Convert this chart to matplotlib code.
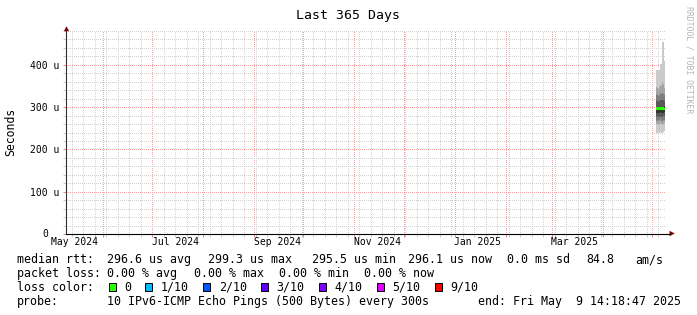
import matplotlib
matplotlib.use("Agg")
import matplotlib.pyplot as plt
import matplotlib.dates as mdates
import matplotlib.transforms as mtrans
from matplotlib.ticker import MultipleLocator, NullFormatter
from matplotlib.patches import Rectangle, Polygon
from matplotlib.lines import Line2D
from datetime import datetime, timedelta

plt.rcParams['font.family'] = ['DejaVu Sans Mono']

W, H, DPI = 697, 315, 100

# ---------------- data ----------------
end_time = datetime(2025, 5, 9, 14, 18, 47)
span_days = 365
start_time = end_time - timedelta(days=span_days)

# left edge of each consolidated column (one column ~ 14.6 h)
sample_times = ["2025-05-03 19:30", "2025-05-04 10:06", "2025-05-05 00:42",
                "2025-05-05 15:18", "2025-05-06 05:54", "2025-05-06 20:30",
                "2025-05-07 11:06", "2025-05-08 01:42", "2025-05-08 16:18"]

# 10 sorted pings per column, in microseconds
pings = [
    [240, 259, 268, 277, 286, 300, 314, 328, 347, 388],
    [240, 261, 270, 278, 287, 301, 316, 330, 345, 388],
    [241, 258, 268, 276, 285, 299, 313, 326, 344, 388],
    [240, 260, 269, 277, 286, 300, 315, 329, 348, 388],
    [242, 262, 271, 279, 288, 302, 318, 333, 352, 401],
    [240, 259, 268, 277, 287, 301, 316, 331, 350, 401],
    [238, 258, 267, 276, 286, 300, 317, 334, 360, 455],
    [241, 260, 269, 278, 287, 301, 316, 330, 355, 455],
    [244, 262, 270, 279, 288, 302, 315, 328, 346, 410],
]
median_rtt = [297, 296, 297, 295, 298, 296, 297, 296, 296]

y_ticks = [0, 100, 200, 300, 400]
y_tick_labels = ["0", "100 u", "200 u", "300 u", "400 u"]

x_label_dates = ["2024-05-15", "2024-07-15", "2024-09-15",
                 "2024-11-15", "2025-01-15", "2025-03-15"]
x_label_texts = ["May 2024", "Jul 2024", "Sep 2024", "Nov 2024", "Jan 2025", "Mar 2025"]

loss_labels = ["0", "1/10", "2/10", "3/10", "4/10", "5/10", "9/10"]
loss_colors = ["#26ff00", "#00b8ff", "#0059ff", "#5e00ff", "#7e00ff", "#dd00ff", "#ff0000"]

smoke_shades = ["#cacaca", "#a4a4a4", "#7e7e7e", "#585858", "#323232"]

# ---------------- figure ----------------
fig = plt.figure(figsize=(W / DPI, H / DPI), dpi=DPI, facecolor="white")
# pixel transform (y downward)
T = mtrans.Affine2D().scale(1.0 / W, -1.0 / H).translate(0, 1) + fig.transFigure

ax_left, ax_right, ax_top, ax_bottom = 66.0, 666.0, 31.0, 234.0
ax = fig.add_axes([ax_left / W, (H - ax_bottom) / H,
                   (ax_right - ax_left) / W, (ax_bottom - ax_top) / H])
ax.set_facecolor("white")

x0 = mdates.date2num(start_time)
x1 = mdates.date2num(end_time)
ax.set_xlim(x0, x1)
ax.set_ylim(0, 480)

# smoke
col_w = span_days / 600.0
xs = [mdates.date2num(datetime.strptime(s, "%Y-%m-%d %H:%M")) for s in sample_times]
edges = xs + [xs[-1] + col_w]
n = len(pings[0])
for i in range(n // 2):
    lo = [p[i] for p in pings]
    hi = [p[n - 1 - i] for p in pings]
    ax.fill_between(edges, lo + [lo[-1]], hi + [hi[-1]], step="post",
                    color=smoke_shades[i], linewidth=0, zorder=2)

ax.stairs(median_rtt, edges, baseline=None, color=loss_colors[0],
          linewidth=1.5, zorder=3)

# grid / ticks
ax.xaxis.set_major_locator(mdates.MonthLocator())
ax.xaxis.set_minor_locator(mdates.WeekdayLocator(byweekday=mdates.MO))
ax.xaxis.set_major_formatter(NullFormatter())
ax.xaxis.set_minor_formatter(NullFormatter())
ax.yaxis.set_major_locator(MultipleLocator(100))
ax.yaxis.set_minor_locator(MultipleLocator(20))
ax.set_yticks(y_ticks, labels=[""] + y_tick_labels[1:])

ax.set_axisbelow(True)
ax.grid(which="minor", color="#d2d2d2", linestyle=(0.5, (1, 1)), linewidth=0.72)
ax.grid(which="major", color="#f4a4a4", linestyle=(0.5, (1, 1)), linewidth=0.72)

ax.tick_params(axis="both", which="both", direction="out", width=0.72)
ax.tick_params(axis="x", which="major", length=2.2, color="#e09090")
ax.tick_params(axis="x", which="minor", length=2.2, color="#cccccc")
ax.tick_params(axis="y", which="major", length=2.2, color="#e09090", pad=2.6,
               labelsize=7.05)
ax.tick_params(axis="y", which="minor", length=2.2, color="#cccccc")

for s in ["top", "right"]:
    ax.spines[s].set_visible(False)
ax.spines["left"].set_color("#303030")
ax.spines["bottom"].set_color("#000000")
ax.spines["left"].set_linewidth(0.8)
ax.spines["bottom"].set_linewidth(0.8)

# zero label (rrdtool leaves a blank unit slot after it)
bty = mtrans.blended_transform_factory(T, ax.transData)
ax.text(48.4, y_ticks[0], y_tick_labels[0], transform=bty, ha="right",
        va="center", fontsize=7.05, clip_on=False)

# x labels at mid-month
bt = mtrans.blended_transform_factory(ax.transData, T)
for d, t in zip(x_label_dates, x_label_texts):
    ax.text(mdates.date2num(datetime.strptime(d, "%Y-%m-%d")), 245.3, t,
            transform=bt, ha="center", va="baseline", fontsize=7.05,
            clip_on=False)

# arrows
fig.add_artist(Line2D([666.0, 670], [233.5, 233.5], color="#000000",
                      linewidth=0.8, transform=T))
fig.add_artist(Polygon([[674.8, 233.5], [669.5, 230.8], [669.5, 236.2]],
                       closed=True, facecolor="#7f0000", edgecolor="none",
                       transform=T))
fig.add_artist(Polygon([[66.5, 26.2], [63.9, 31.2], [69.1, 31.2]],
                       closed=True, facecolor="#7f0000", edgecolor="none",
                       transform=T))

# title / labels
fig.text(347.7, 18.6, "Last 365 Days", ha="center", va="baseline",
         fontsize=9.5, transform=T)
fig.text(10.5, 131.7, "Seconds", ha="center", va="center", rotation=90,
         fontsize=8.3, transform=T)
fig.text(688.5, 6, "RRDTOOL / TOBI OETIKER", ha="center", va="top",
         rotation=270, fontsize=5.9, color="#b4b4b4", transform=T)

# legend
LF = 8.35
line_y = [263.4, 277.3, 291.0, 304.8]
line1 = [(17, "median rtt:"), (107.3, "296.6 us avg"), (207.7, "299.3 us max"),
         (311.7, "295.5 us min"), (407.7, "296.1 us now"), (507.3, "0.0 ms sd"),
         (586.7, "84.8"), (635.3, "am/s")]
line2 = [(17, "packet loss:"), (107.3, "0.00 % avg"), (193.7, "0.00 % max"),
         (279.3, "0.00 % min"), (364.0, "0.00 % now")]
line4 = [(17, "probe:"), (107.3, "10 IPv6-ICMP Echo Pings (500 Bytes) every 300s"),
         (478.3, "end: Fri May  9 14:18:47 2025")]
for (x, t) in line1:
    fig.text(x, line_y[0], t, ha="left", va="baseline", fontsize=LF, transform=T)
for (x, t) in line2:
    fig.text(x, line_y[1], t, ha="left", va="baseline", fontsize=LF, transform=T)
for (x, t) in line4:
    fig.text(x, line_y[3], t, ha="left", va="baseline", fontsize=LF, transform=T)

fig.text(17, line_y[2], "loss color:", ha="left", va="baseline", fontsize=LF, transform=T)
loss_x = [124.0, 160.7, 218.7, 276.7, 334.3, 392.3, 450.0]
for lx, lab, col in zip(loss_x, loss_labels, loss_colors):
    fig.add_artist(Rectangle((lx - 15.3, 283.3), 7.0, 7.6, facecolor=col,
                             edgecolor="#000000", linewidth=0.7, transform=T))
    fig.text(lx, line_y[2], lab, ha="left", va="baseline", fontsize=LF, transform=T)

fig.savefig("out.png", dpi=DPI, facecolor="white")
